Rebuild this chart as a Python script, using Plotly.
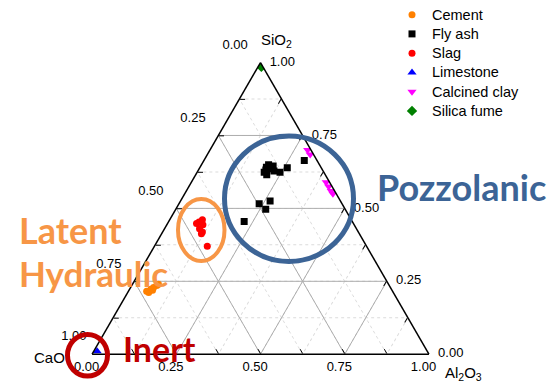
import plotly.graph_objects as go

# Oxide composition (mass fractions) of each SCM family: SiO2, CaO, Al2O3
cement_sio2 = [0.216, 0.223, 0.229, 0.236, 0.240, 0.212, 0.219]
cement_cao = [0.730, 0.714, 0.703, 0.690, 0.683, 0.726, 0.711]
cement_al2o3 = [0.054, 0.063, 0.068, 0.074, 0.077, 0.062, 0.070]

flyash_sio2 = [0.664, 0.650, 0.641, 0.624, 0.615, 0.628, 0.624, 0.639, 0.636,
               0.516, 0.525, 0.497, 0.455, 0.632, 0.645]
flyash_cao = [0.038, 0.151, 0.162, 0.177, 0.174, 0.146, 0.130, 0.101, 0.153,
              0.246, 0.209, 0.236, 0.321, 0.168, 0.140]
flyash_al2o3 = [0.298, 0.199, 0.197, 0.199, 0.211, 0.226, 0.246, 0.260, 0.211,
                0.238, 0.266, 0.267, 0.224, 0.200, 0.215]

slag_sio2 = [0.448, 0.453, 0.461, 0.444, 0.430, 0.419, 0.413, 0.370]
slag_cao = [0.466, 0.456, 0.442, 0.449, 0.466, 0.463, 0.469, 0.473]
slag_al2o3 = [0.086, 0.091, 0.097, 0.107, 0.104, 0.118, 0.118, 0.157]

limestone_sio2 = [0.01]
limestone_cao = [0.98]
limestone_al2o3 = [0.01]

clay_sio2 = [0.700, 0.685, 0.590, 0.575, 0.560, 0.550]
clay_cao = [0.010, 0.010, 0.010, 0.010, 0.010, 0.010]
clay_al2o3 = [0.290, 0.305, 0.400, 0.415, 0.430, 0.440]

fume_sio2 = [0.985]
fume_cao = [0.005]
fume_al2o3 = [0.010]

tick_values = [0, 0.125, 0.25, 0.375, 0.5, 0.625, 0.75, 0.875, 1.0]
major_values = [0.25, 0.5, 0.75]

W, H = 547, 384
TICK_FONT = "Liberation Sans, Arial"
NB = "&nbsp;"


def px(x):
    return x / W


def py(y):
    return 1 - y / H


def is_major(v):
    return abs(v / 0.25 - round(v / 0.25)) < 1e-9


def left_labels(vals):
    # left edge carries CaO (= 1 - a); labels sit up and away from the edge
    out = []
    for v in vals:
        if not is_major(v):
            out.append("")
        else:
            pad = NB if v == 0 else NB * 3
            out.append(f"{1 - v:.2f}{pad}<br>{NB}<br>{NB}")
    return out


def bottom_labels(vals):
    # bottom edge carries Al2O3 (= 1 - b)
    return [f"{1 - v:.2f}{NB * 3}" if is_major(v) else "" for v in vals]


def right_labels(vals):
    # right edge carries SiO2 (= 1 - c)
    return [f"{NB * 2}{1 - v:.2f}" if is_major(v) else "" for v in vals]


def legend_name(txt):
    return f'<span style="font-size:14.5px">{txt}</span>'


fig = go.Figure()

# major grid lines (solid grey), drawn beneath the data
ga, gb, gc = [], [], []
for v in major_values:
    ga += [v, v, None, 1 - v, 0, None, 1 - v, 0, None]
    gb += [1 - v, 0, None, v, v, None, 0, 1 - v, None]
    gc += [0, 1 - v, None, 0, 1 - v, None, v, v, None]
fig.add_trace(go.Scatterternary(a=ga, b=gb, c=gc, mode="lines",
                                line=dict(color="#adadad", width=1),
                                showlegend=False, hoverinfo="skip"))

series = [
    ("Cement", cement_sio2, cement_cao, cement_al2o3, "circle", "#ff8000", 7),
    ("Fly ash", flyash_sio2, flyash_cao, flyash_al2o3, "square", "#000000", 7),
    ("Slag", slag_sio2, slag_cao, slag_al2o3, "circle", "#ff0000", 7),
    ("Limestone", limestone_sio2, limestone_cao, limestone_al2o3, "triangle-up", "#0000ff", 8),
    ("Calcined clay", clay_sio2, clay_cao, clay_al2o3, "triangle-down", "#ff00ff", 8),
    ("Silica fume", fume_sio2, fume_cao, fume_al2o3, "diamond", "#008000", 8),
]
for name, a, b, c, sym, col, size in series:
    fig.add_trace(go.Scatterternary(a=a, b=b, c=c, mode="markers", name=legend_name(name),
                                    marker=dict(symbol=sym, color=col, size=size,
                                                line=dict(width=0))))

axis_common = dict(
    tickvals=tick_values,
    ticks="inside",
    ticklen=5,
    tickcolor="#000000",
    tickwidth=1,
    linecolor="#000000",
    linewidth=1.5,
    showgrid=True,
    gridcolor="#dcdcdc",
    griddash="dot",
    gridwidth=1,
    tickfont=dict(family=TICK_FONT, size=13, color="#000000"),
    min=0,
    title=dict(text=""),
)

fig.update_layout(
    width=W, height=H,
    margin=dict(l=0, r=0, t=0, b=0),
    paper_bgcolor="white",
    font=dict(family=TICK_FONT, size=13, color="#000000"),
    ternary=dict(
        domain=dict(x=[px(90), px(431)], y=[py(354), py(60)]),
        bgcolor="white",
        sum=1,
        aaxis=dict(axis_common, ticktext=left_labels(tick_values)),
        baxis=dict(axis_common, ticktext=bottom_labels(tick_values)),
        caxis=dict(axis_common, ticktext=right_labels(tick_values)),
    ),
    legend=dict(x=px(392), y=py(-3), xanchor="left", yanchor="top",
                bgcolor="rgba(0,0,0,0)", tracegroupgap=0,
                font=dict(family=TICK_FONT, size=12.5)),
    showlegend=True,
)

# vertex (component) names
for txt, x, y in [("SiO<sub>2</sub>", 277, 38), ("CaO", 49, 357),
                  ("Al<sub>2</sub>O<sub>3</sub>", 464, 373)]:
    fig.add_annotation(x=px(x), y=py(y), xref="paper", yref="paper",
                       xanchor="center", yanchor="middle", text=txt, showarrow=False,
                       font=dict(family=TICK_FONT, size=15, color="#000000"))

# grouping outlines
fig.add_shape(type="circle", xref="paper", yref="paper",
              x0=px(224.5), x1=px(353.5), y0=py(260.5), y1=py(134),
              line=dict(color="#3c6496", width=5))
fig.add_shape(type="circle", xref="paper", yref="paper",
              x0=px(178), x1=px(224.5), y0=py(260), y1=py(197.5),
              line=dict(color="#f79646", width=4))
fig.add_shape(type="circle", xref="paper", yref="paper",
              x0=px(67.5), x1=px(107.5), y0=py(376), y1=py(334),
              line=dict(color="#c00000", width=5))

label_font = "Lato, Liberation Sans, Arial"
for txt, x, y, size, col in [("Pozzolanic", 375, 185, 36, "#3c6496"),
                             ("Latent", 17, 229, 36, "#f79646"),
                             ("Hydraulic", 17, 272, 35, "#f79646"),
                             ("Inert", 121, 348, 34, "#c00000")]:
    fig.add_annotation(x=px(x), y=py(y), xref="paper", yref="paper",
                       xanchor="left", yanchor="middle",
                       text=f"<b>{txt}</b>", showarrow=False,
                       font=dict(family=label_font, size=size, color=col))

fig.write_html("out.html")
